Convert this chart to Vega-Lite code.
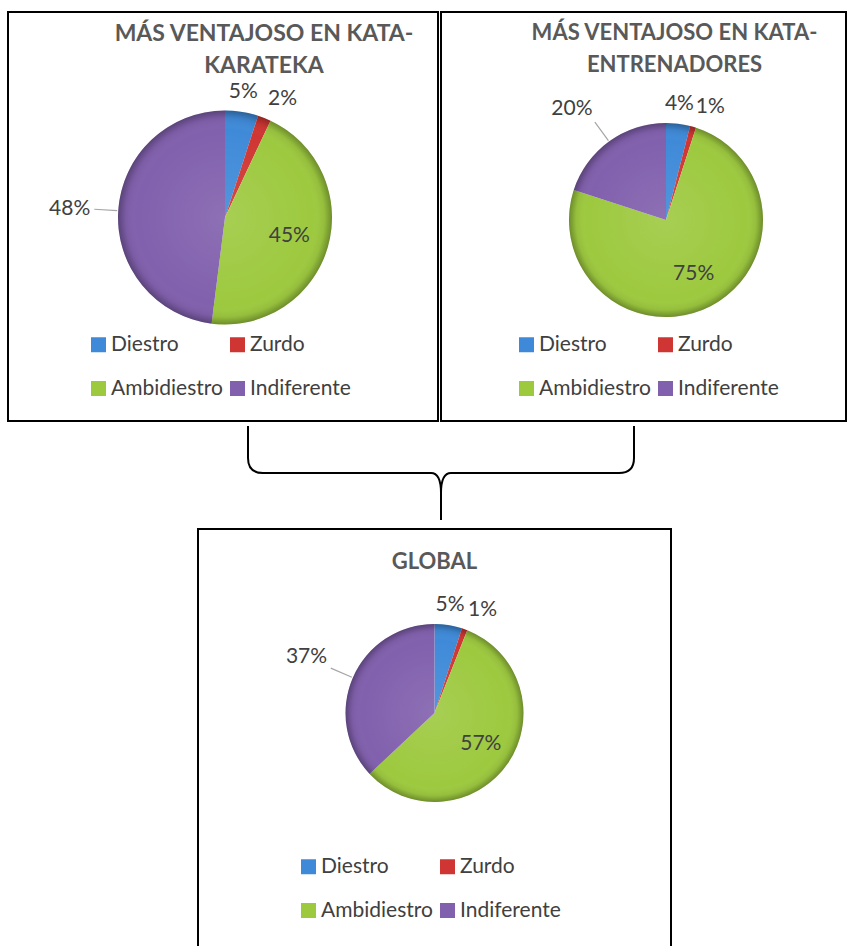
{
  "$schema": "https://vega.github.io/schema/vega-lite/v6.json",
  "background": "white",
  "padding": {"left": 7, "top": 11, "right": 0, "bottom": 0},
  "autosize": {"type": "pad"},
  "config": {
    "view": {"stroke": "#000000", "strokeWidth": 2},
    "font": "Lato",
    "concat": {"spacing": 0}
  },
  "datasets": {
    "karateka": [
      {"opcion": "Diestro", "pct": 5},
      {"opcion": "Zurdo", "pct": 2},
      {"opcion": "Ambidiestro", "pct": 45},
      {"opcion": "Indiferente", "pct": 48}
    ],
    "entrenadores": [
      {"opcion": "Diestro", "pct": 4},
      {"opcion": "Zurdo", "pct": 1},
      {"opcion": "Ambidiestro", "pct": 75},
      {"opcion": "Indiferente", "pct": 20}
    ],
    "global": [
      {"opcion": "Diestro", "pct": 5},
      {"opcion": "Zurdo", "pct": 1},
      {"opcion": "Ambidiestro", "pct": 57},
      {"opcion": "Indiferente", "pct": 37}
    ]
  },
  "spacing": 0,
  "resolve": {"scale": {"color": "independent", "theta": "independent"}, "legend": {"color": "independent"}},
  "vconcat": [
    {
      "spacing": 1,
      "resolve": {"scale": {"color": "independent", "theta": "independent"}, "legend": {"color": "independent"}},
      "hconcat": [
        {
          "width": 430,
          "height": 409,
          "view": {"stroke": "#000000", "strokeWidth": 2},
          "data": {"name": "karateka"},
          "title": {"text": ["MÁS VENTAJOSO EN KATA-", "KARATEKA"], "anchor": "middle", "frame": "group", "dx": 41, "offset": -66, "baseline": "top", "lineHeight": 32, "font": "Lato", "fontSize": 23, "fontWeight": "bold", "color": "#595959"},
          "transform": [
            {"window": [{"op": "row_number", "as": "orden"}]},
            {"stack": "pct", "groupby": [], "sort": [{"field": "orden", "order": "ascending"}], "as": ["ini", "fin"]},
            {"calculate": "(datum.ini + datum.fin) / 2", "as": "medio"},
            {"calculate": "2 * PI * datum.medio / 100", "as": "ang"},
            {"calculate": "datum.pct >= 10 && datum.medio < 50", "as": "dentro"},
            {"calculate": "datum.pct + '%'", "as": "etiqueta"}
          ],
          "layer": [
            {
              "mark": {"type": "arc", "outerRadius": 107, "xOffset": 2, "yOffset": 1},
              "encoding": {
                "theta": {"field": "ini", "type": "quantitative", "stack": null, "scale": {"domain": [0, 100]}},
                "theta2": {"field": "fin"},
                "color": {
                  "field": "opcion", "type": "nominal",
                  "scale": {"domain": ["Diestro", "Zurdo", "Ambidiestro", "Indiferente"], "range": ["#3f8ad8", "#cf3633", "#9dc93f", "#8160ad"]},
                  "legend": {"orient": "none", "legendX": 80, "legendY": 322, "direction": "horizontal", "columns": 2, "title": null, "symbolType": "square", "symbolSize": 225, "symbolStrokeWidth": 0, "labelFont": "Lato", "labelFontSize": 21, "labelColor": "#404040", "labelOffset": 2, "rowPadding": 22, "columnPadding": 4}
                }
              }
            },
            {
              "transform": [{"aggregate": [{"op": "min", "field": "ini", "as": "a0"}, {"op": "max", "field": "fin", "as": "a1"}]}],
              "mark": {"type": "arc", "outerRadius": 107, "xOffset": 2, "yOffset": 1, "fill": {"gradient": "radial", "x1": 0.5, "y1": 0.5, "r1": 0, "x2": 0.5, "y2": 0.5, "r2": 0.5, "stops": [{"offset": 0, "color": "rgba(255,255,255,0.10)"}, {"offset": 0.82, "color": "rgba(255,255,255,0)"}, {"offset": 0.93, "color": "rgba(0,0,0,0.06)"}, {"offset": 1, "color": "rgba(0,0,0,0.30)"}]}},
              "encoding": {
                "theta": {"field": "a0", "type": "quantitative", "stack": null, "scale": {"domain": [0, 100]}},
                "theta2": {"field": "a1"}
              }
            },
            {
              "transform": [{"filter": "!datum.dentro && datum.pct >= 10"}],
              "mark": {"type": "arc", "outerRadius": 131, "innerRadius": 108, "xOffset": 2, "yOffset": 1, "fill": null, "stroke": "#a6a6a6", "strokeWidth": 1.2},
              "encoding": {
                "theta": {"field": "medio", "type": "quantitative", "stack": null, "scale": {"domain": [0, 100]}},
                "theta2": {"field": "medio"}
              }
            },
            {
              "mark": {
                "type": "text", "font": "Lato", "fontSize": 21, "fill": "#404040", "xOffset": 2, "yOffset": 1,
                "radius": {"expr": "datum.dentro ? 67 : datum.pct >= 10 ? 135 : 117"},
                "align": {"expr": "datum.dentro ? 'center' : sin(datum.ang) > 0.2 ? 'left' : sin(datum.ang) < -0.2 ? 'right' : 'center'"},
                "baseline": {"expr": "datum.dentro ? 'middle' : cos(datum.ang) > 0.3 ? 'bottom' : cos(datum.ang) < -0.3 ? 'top' : 'middle'"}
              },
              "encoding": {
                "theta": {"field": "medio", "type": "quantitative", "stack": null, "scale": {"domain": [0, 100]}},
                "text": {"field": "etiqueta"}
              }
            }
          ]
        },
        {
          "width": 405,
          "height": 409,
          "view": {"stroke": "#000000", "strokeWidth": 2},
          "data": {"name": "entrenadores"},
          "title": {"text": ["MÁS VENTAJOSO EN KATA-", "ENTRENADORES"], "anchor": "middle", "frame": "group", "dx": 31, "offset": -65, "baseline": "top", "lineHeight": 32, "font": "Lato", "fontSize": 22, "fontWeight": "bold", "color": "#595959"},
          "transform": [
            {"window": [{"op": "row_number", "as": "orden"}]},
            {"stack": "pct", "groupby": [], "sort": [{"field": "orden", "order": "ascending"}], "as": ["ini", "fin"]},
            {"calculate": "(datum.ini + datum.fin) / 2", "as": "medio"},
            {"calculate": "2 * PI * datum.medio / 100", "as": "ang"},
            {"calculate": "datum.pct >= 10 && datum.medio < 50", "as": "dentro"},
            {"calculate": "datum.pct + '%'", "as": "etiqueta"}
          ],
          "layer": [
            {
              "mark": {"type": "arc", "outerRadius": 97, "xOffset": 22.5, "yOffset": 3.5},
              "encoding": {
                "theta": {"field": "ini", "type": "quantitative", "stack": null, "scale": {"domain": [0, 100]}},
                "theta2": {"field": "fin"},
                "color": {
                  "field": "opcion", "type": "nominal",
                  "scale": {"domain": ["Diestro", "Zurdo", "Ambidiestro", "Indiferente"], "range": ["#3f8ad8", "#cf3633", "#9dc93f", "#8160ad"]},
                  "legend": {"orient": "none", "legendX": 75, "legendY": 322, "direction": "horizontal", "columns": 2, "title": null, "symbolType": "square", "symbolSize": 225, "symbolStrokeWidth": 0, "labelFont": "Lato", "labelFontSize": 21, "labelColor": "#404040", "labelOffset": 2, "rowPadding": 22, "columnPadding": 4}
                }
              }
            },
            {
              "transform": [{"aggregate": [{"op": "min", "field": "ini", "as": "a0"}, {"op": "max", "field": "fin", "as": "a1"}]}],
              "mark": {"type": "arc", "outerRadius": 97, "xOffset": 22.5, "yOffset": 3.5, "fill": {"gradient": "radial", "x1": 0.5, "y1": 0.5, "r1": 0, "x2": 0.5, "y2": 0.5, "r2": 0.5, "stops": [{"offset": 0, "color": "rgba(255,255,255,0.10)"}, {"offset": 0.82, "color": "rgba(255,255,255,0)"}, {"offset": 0.93, "color": "rgba(0,0,0,0.06)"}, {"offset": 1, "color": "rgba(0,0,0,0.30)"}]}},
              "encoding": {
                "theta": {"field": "a0", "type": "quantitative", "stack": null, "scale": {"domain": [0, 100]}},
                "theta2": {"field": "a1"}
              }
            },
            {
              "transform": [{"filter": "!datum.dentro && datum.pct >= 10"}],
              "mark": {"type": "arc", "outerRadius": 121, "innerRadius": 98, "xOffset": 22.5, "yOffset": 3.5, "fill": null, "stroke": "#a6a6a6", "strokeWidth": 1.2},
              "encoding": {
                "theta": {"field": "medio", "type": "quantitative", "stack": null, "scale": {"domain": [0, 100]}},
                "theta2": {"field": "medio"}
              }
            },
            {
              "mark": {
                "type": "text", "font": "Lato", "fontSize": 21, "fill": "#404040", "xOffset": 22.5, "yOffset": 3.5,
                "radius": {"expr": "datum.dentro ? 61 : datum.pct >= 10 ? 125 : 107"},
                "align": {"expr": "datum.dentro ? 'center' : sin(datum.ang) > 0.2 ? 'left' : sin(datum.ang) < -0.2 ? 'right' : 'center'"},
                "baseline": {"expr": "datum.dentro ? 'middle' : cos(datum.ang) > 0.3 ? 'bottom' : cos(datum.ang) < -0.3 ? 'top' : 'middle'"}
              },
              "encoding": {
                "theta": {"field": "medio", "type": "quantitative", "stack": null, "scale": {"domain": [0, 100]}},
                "text": {"field": "etiqueta"}
              }
            }
          ]
        }
      ]
    },
    {
      "width": 838,
      "height": 104,
      "view": {"stroke": null},
      "data": {"values": [{"conector": "Global"}]},
      "mark": {"type": "point", "shape": "M -1.79 -0.5 L -1.79 -0.18 Q -1.79 -0.03 -1.64 -0.03 L 0.04 -0.03 Q 0.14 -0.03 0.14 0.17 L 0.14 0.44 M 0.14 0.17 Q 0.14 -0.03 0.24 -0.03 L 1.92 -0.03 Q 2.07 -0.03 2.07 -0.18 L 2.07 -0.5", "size": 40000, "filled": false, "stroke": "#000000", "strokeWidth": 2, "opacity": 1},
      "encoding": {}
    },
    {
      "spacing": 0,
      "resolve": {"scale": {"color": "independent", "theta": "independent"}, "legend": {"color": "independent"}},
      "hconcat": [
        {
          "width": 189,
          "height": 10,
          "view": {"stroke": null},
          "data": {"values": [{"conector": "Global"}]},
          "mark": {"type": "point", "opacity": 0},
          "encoding": {}
        },
        {
          "width": 473,
          "height": 417,
          "view": {"stroke": "#000000", "strokeWidth": 2, "strokeDash": [890, 473, 500]},
          "data": {"name": "global"},
          "title": {"text": "GLOBAL", "anchor": "middle", "frame": "group", "offset": -45, "baseline": "top", "font": "Lato", "fontSize": 22, "fontWeight": "bold", "color": "#595959"},
          "transform": [
            {"window": [{"op": "row_number", "as": "orden"}]},
            {"stack": "pct", "groupby": [], "sort": [{"field": "orden", "order": "ascending"}], "as": ["ini", "fin"]},
            {"calculate": "(datum.ini + datum.fin) / 2", "as": "medio"},
            {"calculate": "2 * PI * datum.medio / 100", "as": "ang"},
            {"calculate": "datum.pct >= 10 && datum.medio < 50", "as": "dentro"},
            {"calculate": "datum.pct + '%'", "as": "etiqueta"}
          ],
          "layer": [
            {
              "mark": {"type": "arc", "outerRadius": 89, "xOffset": 0, "yOffset": -24.5},
              "encoding": {
                "theta": {"field": "ini", "type": "quantitative", "stack": null, "scale": {"domain": [0, 100]}},
                "theta2": {"field": "fin"},
                "color": {
                  "field": "opcion", "type": "nominal",
                  "scale": {"domain": ["Diestro", "Zurdo", "Ambidiestro", "Indiferente"], "range": ["#3f8ad8", "#cf3633", "#9dc93f", "#8160ad"]},
                  "legend": {"orient": "none", "legendX": 100, "legendY": 327, "direction": "horizontal", "columns": 2, "title": null, "symbolType": "square", "symbolSize": 225, "symbolStrokeWidth": 0, "labelFont": "Lato", "labelFontSize": 21, "labelColor": "#404040", "labelOffset": 2, "rowPadding": 22, "columnPadding": 4}
                }
              }
            },
            {
              "transform": [{"aggregate": [{"op": "min", "field": "ini", "as": "a0"}, {"op": "max", "field": "fin", "as": "a1"}]}],
              "mark": {"type": "arc", "outerRadius": 89, "xOffset": 0, "yOffset": -24.5, "fill": {"gradient": "radial", "x1": 0.5, "y1": 0.5, "r1": 0, "x2": 0.5, "y2": 0.5, "r2": 0.5, "stops": [{"offset": 0, "color": "rgba(255,255,255,0.10)"}, {"offset": 0.82, "color": "rgba(255,255,255,0)"}, {"offset": 0.93, "color": "rgba(0,0,0,0.06)"}, {"offset": 1, "color": "rgba(0,0,0,0.30)"}]}},
              "encoding": {
                "theta": {"field": "a0", "type": "quantitative", "stack": null, "scale": {"domain": [0, 100]}},
                "theta2": {"field": "a1"}
              }
            },
            {
              "transform": [{"filter": "!datum.dentro && datum.pct >= 10"}],
              "mark": {"type": "arc", "outerRadius": 113, "innerRadius": 90, "xOffset": 0, "yOffset": -24.5, "fill": null, "stroke": "#a6a6a6", "strokeWidth": 1.2},
              "encoding": {
                "theta": {"field": "medio", "type": "quantitative", "stack": null, "scale": {"domain": [0, 100]}},
                "theta2": {"field": "medio"}
              }
            },
            {
              "mark": {
                "type": "text", "font": "Lato", "fontSize": 21, "fill": "#404040", "xOffset": 0, "yOffset": -24.5,
                "radius": {"expr": "datum.dentro ? 56 : datum.pct >= 10 ? 117 : 99"},
                "align": {"expr": "datum.dentro ? 'center' : sin(datum.ang) > 0.2 ? 'left' : sin(datum.ang) < -0.2 ? 'right' : 'center'"},
                "baseline": {"expr": "datum.dentro ? 'middle' : cos(datum.ang) > 0.3 ? 'bottom' : cos(datum.ang) < -0.3 ? 'top' : 'middle'"}
              },
              "encoding": {
                "theta": {"field": "medio", "type": "quantitative", "stack": null, "scale": {"domain": [0, 100]}},
                "text": {"field": "etiqueta"}
              }
            }
          ]
        }
      ]
    }
  ]
}
